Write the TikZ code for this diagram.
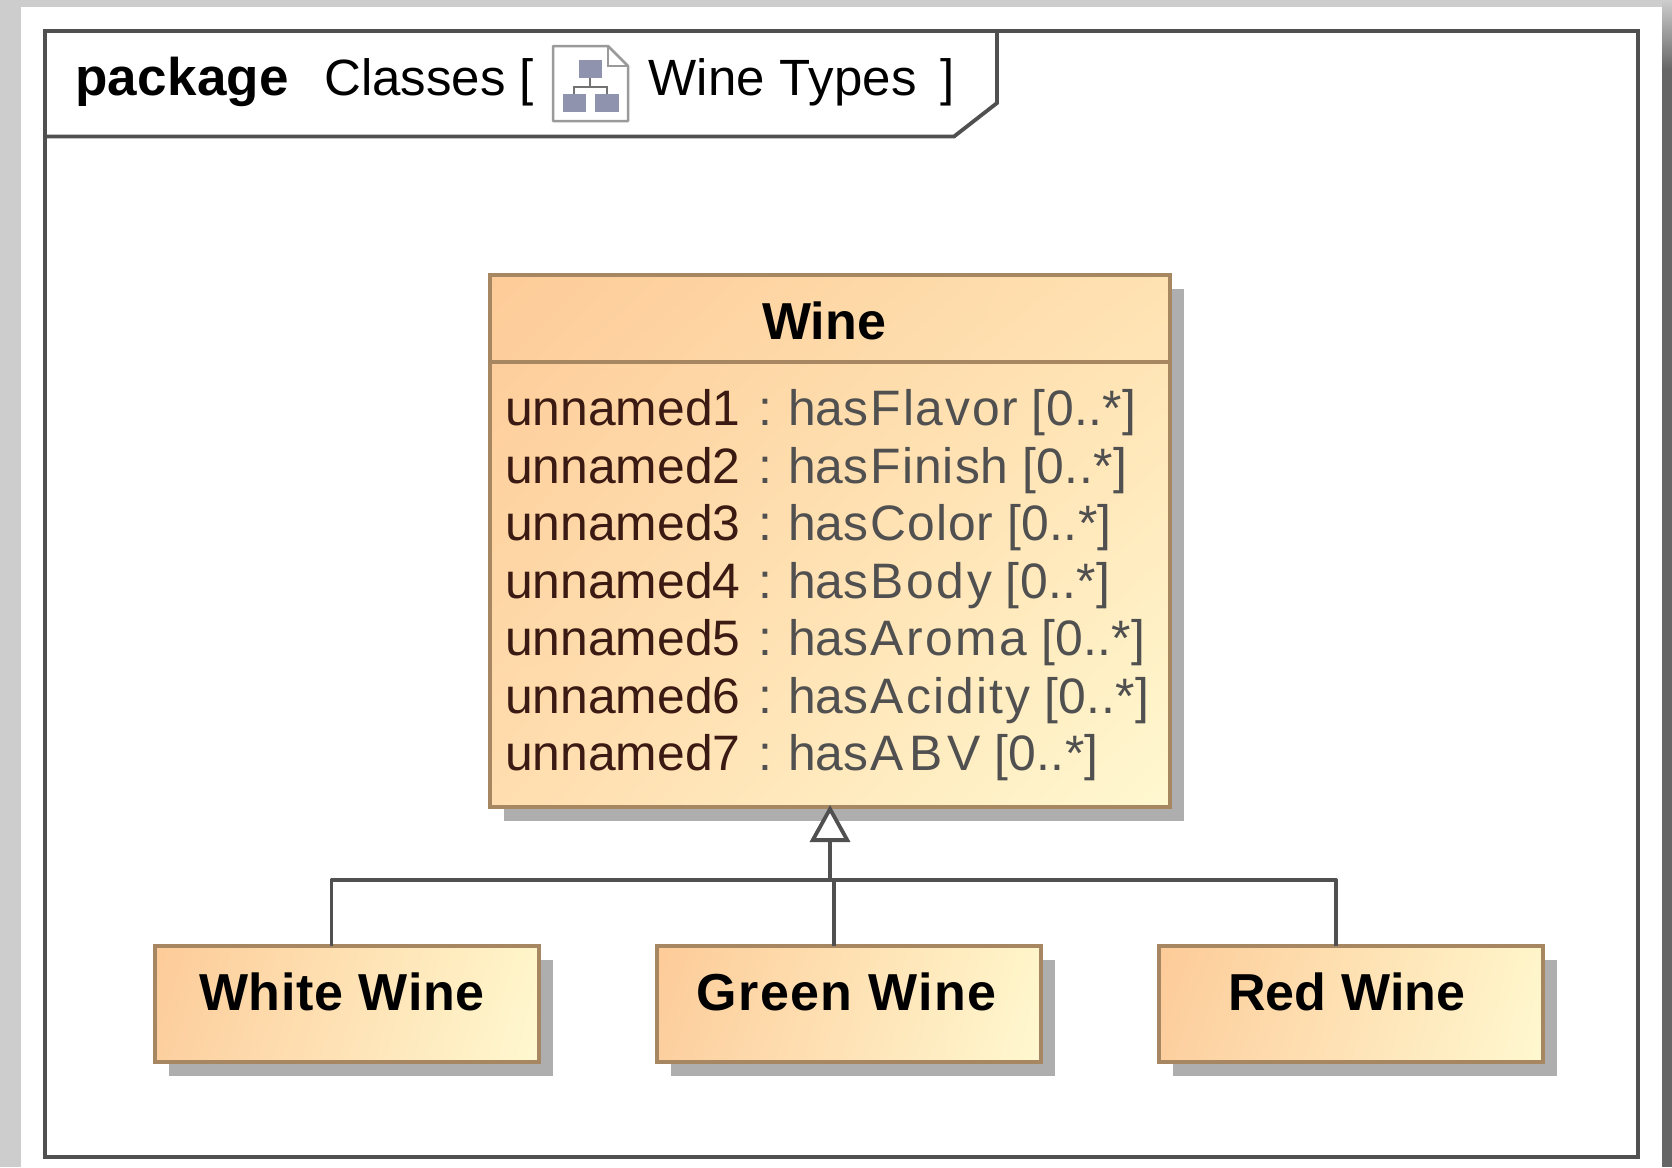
\documentclass[tikz,border=0pt]{standalone}
\usepackage{fontspec}
\setmainfont{Liberation Sans}
\usetikzlibrary{arrows.meta,shadows,shadings}
\definecolor{bggray}{HTML}{CDCDCD}
\definecolor{banddark}{HTML}{666666}
\definecolor{framegray}{HTML}{505050}
\definecolor{boxedge}{HTML}{A68762}
\definecolor{shadowgray}{HTML}{AEAEAE}
\definecolor{gradA}{HTML}{FDCB98}
\definecolor{gradB}{HTML}{FFE2B2}
\definecolor{gradC}{HTML}{FFDDAE}
\definecolor{gradD}{HTML}{FFF8D0}
\definecolor{gradE}{HTML}{FDCF9F}
\definecolor{gradF}{HTML}{FFF5CA}
\definecolor{namecol}{HTML}{3A1A12}
\definecolor{typecol}{HTML}{505050}
\definecolor{iconblue}{HTML}{8F93AE}
\definecolor{icongray}{HTML}{9A9A9A}
\newcommand{\tracked}[2]{{\addfontfeature{LetterSpace=#1}#2}}
\newcommand{\attrline}[3]{\makebox[253pt][l]{\textcolor{namecol}{#1}}\textcolor{typecol}{:\hspace{16pt}has\kern2.5pt\tracked{#2}{#3} \tracked{0.8}{[0..*]}}}
\tikzset{
  classbase/.style={draw=boxedge,line width=4pt,shade,outer sep=0pt,
    general shadow={fill=shadowgray,shadow xshift=14pt,shadow yshift=-14pt},inner sep=0pt,anchor=north west},
  classbox/.style={classbase,upper left=gradA,upper right=gradB,lower left=gradC,lower right=gradD},
  smallbox/.style={classbase,upper left=gradA,upper right=gradF,lower left=gradE,lower right=gradD,minimum width=384pt,minimum height=116pt},
  classtitle/.style={font=\fontsize{52}{60}\selectfont\bfseries,text=black,inner sep=0pt,anchor=base},
  attr/.style={font=\fontsize{49.8}{58}\selectfont,inner sep=0pt,anchor=base west},
  frametext/.style={font=\fontsize{51}{60}\selectfont,text=black,inner sep=0pt,anchor=base west},
  conn/.style={draw=framegray,line width=3.8pt},
  frameline/.style={draw=framegray,line width=3.8pt,line join=miter}
}
\begin{document}
\begin{tikzpicture}[x=1pt,y=-1pt]
\useasboundingbox (0,0) rectangle (1672,1167);
% backdrop
\fill[bggray] (0,0) rectangle (1672,1167);
\shade[top color=bggray,bottom color=banddark] (1662,0) rectangle (1672,70);
\fill[banddark] (1662,70) rectangle (1672,1167);
\fill[white] (21,7) rectangle (1662,1167);
% frame
\draw[frameline] (45,31) rectangle (1638,1157);
\draw[frameline] (45,136.5) -- (954,136.5) -- (997,103) -- (997,31);
% frame label
\node[frametext,font=\fontsize{53}{60}\selectfont\bfseries] (lblpkg) at (75,95) {\tracked{0.6}{package}};
\node[frametext] (lblcls) at (324,95) {Classes [};
\node[frametext] (lblname) at (648,95) {\tracked{0.6}{Wine Types}};
\node[frametext] (lblend) at (940,95) {]};
% icon
\draw[icongray,line width=2.5pt,fill=white,line join=round] (553,46) -- (608,46) -- (628,66) -- (628,121) -- (553,121) -- cycle;
\draw[icongray,line width=1.5pt] (608,46) -- (608,66) -- (628,66);
\fill[iconblue] (579,60) rectangle (602,78);
\fill[iconblue] (563,94) rectangle (586,112);
\fill[iconblue] (595,94) rectangle (619,112);
\draw[framegray!80,line width=1.5pt] (590,78) -- (590,87) (574,94) -- (574,87) -- (607,87) -- (607,94);
% classes
\node[classbox,minimum width=680.5pt,minimum height=532pt] (wine) at (489.5,275) {};
\node[smallbox] (white) at (154.5,946) {};
\node[smallbox] (green) at (657,946) {};
\node[smallbox] (red) at (1159,946) {};
\coordinate (sep) at (0,361.5);
\draw[draw=boxedge,line width=4pt] (wine.west |- sep) -- (wine.east |- sep);
% titles
\node[classtitle] (winetitle) at (824,339) {Wine};
\node[classtitle] (whitetitle) at (342,1010) {\tracked{1.4}{White Wine}};
\node[classtitle] (greentitle) at (846.5,1010) {\tracked{2.7}{Green Wine}};
\node[classtitle] (redtitle) at (1347,1010) {\tracked{0.4}{Red Wine}};
% attributes
\node[attr] (a1) at (505,425.5) {\attrline{unnamed1}{3.6}{Flavor}};
\node[attr] (a2) at (505,483) {\attrline{unnamed2}{2}{Finish}};
\node[attr] (a3) at (505,540.5) {\attrline{unnamed3}{1.8}{Color}};
\node[attr] (a4) at (505,598) {\attrline{unnamed4}{5.2}{Body}};
\node[attr] (a5) at (505,655.5) {\attrline{unnamed5}{4.9}{Aroma}};
\node[attr] (a6) at (505,713) {\attrline{unnamed6}{4.4}{Acidity}};
\node[attr] (a7) at (505,770.5) {\attrline{unnamed7}{10}{ABV}};
% generalization tree
\coordinate (busL) at (331.5,880);
\coordinate (busM) at (830,880);
\coordinate (busG) at (834,880);
\coordinate (busR) at (1336,880);
\draw[conn,line join=round] (white.north -| busL) -- (busL) -- (busR) -- (red.north -| busR);
\draw[conn] (green.north -| busG) -- (busG);
\draw[conn,-{Triangle[length=37pt,width=40pt,fill=white,line width=3.8pt]}] (busM) -- ([yshift=2pt]wine.south -| busM);
\end{tikzpicture}
\end{document}
